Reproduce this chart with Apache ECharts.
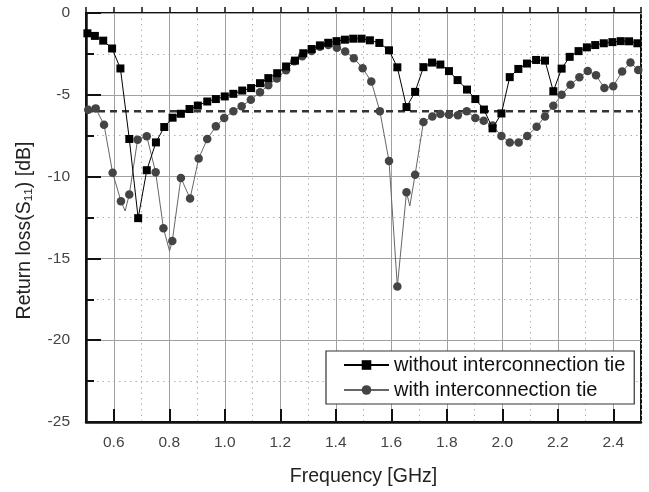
<!DOCTYPE html>
<html>
<head>
<meta charset="utf-8">
<script src="https://cdn.jsdelivr.net/npm/echarts@6/dist/echarts.min.js"></script>
<style>
html, body { margin: 0; padding: 0; background: #fff; }
#chart { width: 649px; height: 492px; }
</style>
</head>
<body>
<div id="chart"></div>
<script>
// measured S11 without the tie (square markers)
const freqWithout = [0.505, 0.532, 0.562, 0.594, 0.624, 0.656, 0.688, 0.719, 0.752, 0.782,
	0.812, 0.842, 0.873, 0.903, 0.937, 0.968, 1.000, 1.031, 1.063, 1.095,
	1.127, 1.157, 1.189, 1.221, 1.253, 1.283, 1.313, 1.343, 1.373, 1.403,
	1.433, 1.463, 1.493, 1.523, 1.557, 1.592, 1.622, 1.655, 1.686, 1.716,
	1.747, 1.777, 1.808, 1.839, 1.873, 1.903, 1.934, 1.965, 1.997, 2.027,
	2.058, 2.089, 2.122, 2.154, 2.184, 2.214, 2.243, 2.275, 2.305, 2.335,
	2.366, 2.397, 2.427, 2.457, 2.487];
const lossWithout = [-1.24, -1.40, -1.69, -2.17, -3.39, -7.70, -12.54, -9.61, -7.91, -6.97,
	-6.40, -6.16, -5.87, -5.66, -5.41, -5.26, -5.10, -4.94, -4.74, -4.59,
	-4.29, -3.98, -3.68, -3.27, -2.91, -2.46, -2.20, -1.98, -1.82, -1.72,
	-1.63, -1.57, -1.57, -1.67, -1.83, -2.28, -3.32, -5.75, -4.82, -3.31,
	-3.03, -3.15, -3.55, -4.10, -4.68, -5.26, -5.90, -7.05, -6.14, -3.92,
	-3.42, -3.09, -2.87, -2.91, -4.78, -3.40, -2.68, -2.33, -2.10, -1.96,
	-1.85, -1.78, -1.72, -1.73, -1.85];

// measured S11 with the tie (circle markers)
const freqWith = [0.508, 0.535, 0.565, 0.596, 0.626, 0.656, 0.686, 0.719, 0.751, 0.779,
	0.811, 0.842, 0.875, 0.906, 0.937, 0.968, 0.998, 1.031, 1.061, 1.094,
	1.127, 1.157, 1.188, 1.221, 1.251, 1.279, 1.313, 1.343, 1.373, 1.404,
	1.434, 1.465, 1.497, 1.528, 1.559, 1.592, 1.622, 1.655, 1.686, 1.716,
	1.748, 1.777, 1.808, 1.840, 1.872, 1.903, 1.933, 1.965, 1.997, 2.027,
	2.059, 2.090, 2.124, 2.154, 2.184, 2.214, 2.246, 2.278, 2.308, 2.338,
	2.368, 2.400, 2.432, 2.462, 2.490];
const lossWith = [-5.91, -5.83, -6.83, -9.77, -11.50, -11.10, -7.74, -7.54, -9.74, -13.15,
	-13.94, -10.08, -11.34, -8.90, -7.70, -6.93, -6.42, -6.00, -5.70, -5.30,
	-4.85, -4.42, -4.00, -3.50, -2.95, -2.64, -2.33, -2.07, -1.95, -2.12,
	-2.36, -2.76, -3.37, -4.19, -6.00, -9.05, -16.72, -10.96, -9.88, -6.66,
	-6.32, -6.17, -6.22, -6.25, -6.00, -6.42, -6.58, -6.88, -7.52, -7.91,
	-7.91, -7.52, -6.95, -6.32, -5.67, -5.00, -4.38, -3.92, -3.55, -3.81,
	-4.59, -4.47, -3.58, -3.03, -3.48];

// where the trace dips between markers (line only, no marker)
const freqWithDips = [0.641, 0.801, 1.667];
const lossWithDips = [-12.10, -14.55, -11.80];

// frequency grid, every 0.1 GHz; odd entries carry labels
const xGridLabels = ['0.5', '0.6', '0.7', '0.8', '0.9', '1.0', '1.1', '1.2', '1.3', '1.4',
	'1.5', '1.6', '1.7', '1.8', '1.9', '2.0', '2.1', '2.2', '2.3', '2.4', '2.5'];
const freqRange = [0.5, 2.5];
const thresholdDb = -6;

const fontFamily = '"Liberation Sans", Arial, sans-serif';

function toPairs( xs, ys ) {
	return xs.map( ( x, i ) => [ x, ys[ i ] ] );
}

// markers plus marker-less dip points, sorted by frequency
function withDips( xs, ys, dipXs, dipYs ) {
	const points = toPairs( xs, ys ).map( ( p ) => ( { value: p } ) );
	toPairs( dipXs, dipYs ).forEach( ( p ) => {
		points.push( { value: p, symbol: 'none' } );
	} );
	return points.sort( ( a, b ) => a.value[ 0 ] - b.value[ 0 ] );
}

const isLabelled = ( index ) => index % 2 === 1;

const chart = echarts.init( document.getElementById( 'chart' ) );

chart.setOption( {
	animation: false,
	backgroundColor: '#fff',
	grid: {
		left: 86, right: 8, top: 13, bottom: 69,
		show: true, borderColor: '#111', borderWidth: 2
	},
	legend: {
		data: [ 'without interconnection tie', 'with interconnection tie' ],
		orient: 'vertical',
		left: 326, top: 351,
		padding: [ 4, 9, 4, 17 ],
		itemWidth: 45, itemHeight: 12, itemGap: 5,
		backgroundColor: '#fff',
		borderColor: '#333', borderWidth: 1.2,
		textStyle: { fontSize: 20, color: '#111', fontFamily: fontFamily }
	},
	xAxis: [
		{
			// data axis, minor grid every 0.1 GHz
			type: 'value', min: freqRange[ 0 ], max: freqRange[ 1 ], interval: 0.1,
			position: 'bottom',
			axisLine: { show: false },
			axisTick: { inside: true, length: 6, lineStyle: { color: '#111', width: 1.5 } },
			axisLabel: { show: false },
			splitLine: { show: true, lineStyle: { color: '#b0b0b0', width: 1, type: [ 1.5, 4 ] } }
		},
		{
			// labelled major grid every 0.2 GHz
			type: 'category', data: xGridLabels, boundaryGap: false,
			position: 'bottom',
			axisLine: { show: true, lineStyle: { color: '#111', width: 2.5 } },
			axisTick: { inside: true, length: 13, interval: isLabelled, lineStyle: { color: '#111', width: 2 } },
			axisLabel: { interval: isLabelled, margin: 13, fontSize: 15.5, color: '#444', fontFamily: fontFamily },
			splitLine: { show: true, interval: isLabelled, lineStyle: { color: '#a0a0a0', width: 1 } },
			name: 'Frequency [GHz]',
			nameLocation: 'middle', nameGap: 45,
			nameTextStyle: { fontSize: 19.5, color: '#222', fontFamily: fontFamily }
		}
	],
	yAxis: {
		type: 'value', min: -25, max: 0, interval: 5,
		axisLine: { show: true, lineStyle: { color: '#111', width: 2.5 } },
		axisTick: { inside: true, length: 15, lineStyle: { color: '#111', width: 2 } },
		minorTick: { show: true, splitNumber: 2, length: 8, lineStyle: { color: '#111', width: 2 } },
		axisLabel: { margin: 16, fontSize: 15.5, color: '#444', fontFamily: fontFamily },
		splitLine: { show: true, lineStyle: { color: '#a0a0a0', width: 1 } },
		minorSplitLine: { show: true, lineStyle: { color: '#b0b0b0', width: 1, type: [ 1.5, 4 ] } },
		name: 'Return loss(S\u2081\u2081) [dB]',
		nameLocation: 'middle', nameGap: 51,
		nameTextStyle: { fontSize: 19.5, color: '#222', fontFamily: fontFamily, padding: [ 0, 26, 0, 0 ] }
	},
	series: [
		{
			name: 'threshold',
			type: 'line',
			xAxisIndex: 0,
			data: toPairs( freqRange, [ thresholdDb, thresholdDb ] ),
			symbol: 'none',
			silent: true,
			z: 1,
			lineStyle: { color: '#333', width: 2.5, type: [ 7, 5 ] }
		},
		{
			name: 'without interconnection tie',
			type: 'line',
			xAxisIndex: 0,
			data: toPairs( freqWithout, lossWithout ),
			symbol: 'rect', symbolSize: 8,
			z: 3,
			itemStyle: { color: '#000' },
			lineStyle: { color: '#000', width: 1 }
		},
		{
			name: 'with interconnection tie',
			type: 'line',
			xAxisIndex: 0,
			data: withDips( freqWith, lossWith, freqWithDips, lossWithDips ),
			symbol: 'circle', symbolSize: 8.5,
			z: 2,
			itemStyle: { color: '#444' },
			lineStyle: { color: '#666', width: 1 }
		}
	]
} );
</script>
</body>
</html>
